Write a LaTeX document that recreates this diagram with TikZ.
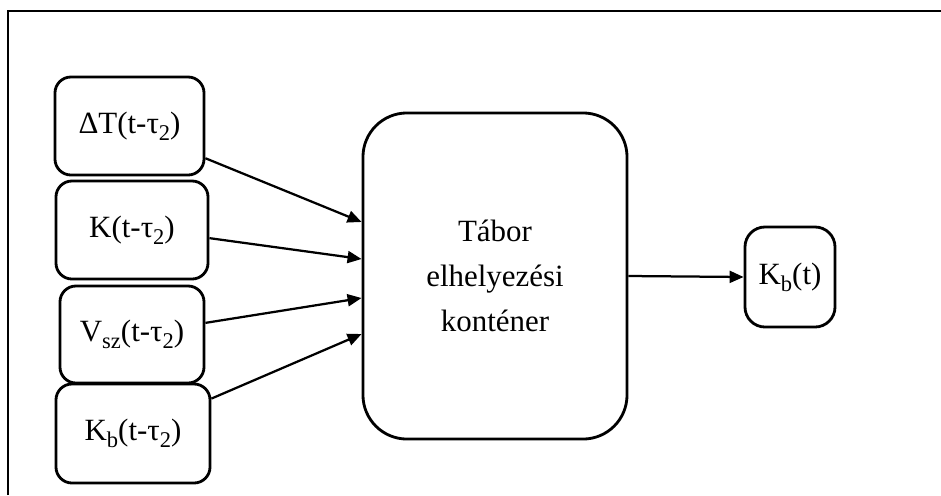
\documentclass[tikz,border=0pt]{standalone}
\usepackage{fontspec}
\setmainfont{Liberation Serif}
\usetikzlibrary{arrows.meta, positioning}

\newcommand{\lowsub}[1]{\raisebox{-5pt}{\fontsize{16}{16}\selectfont #1}}

\tikzset{
    block/.style={draw, line width=2pt, rounded corners=0.4cm, inner sep=0pt, align=center,
        font=\fontsize{22}{32}\selectfont},
    flow/.style={line width=1.6pt, -{Triangle[length=0.35cm, width=0.3cm]}}
}

\begin{document}
\begin{tikzpicture}[x=0.025cm, y=-0.025cm]

            % Canvas and frame (only top and left edges are visible)
            \useasboundingbox (0,0) rectangle (941,495);
            \draw[line width=0.9pt] (8,495) -- (8,11) -- (941,11);

            % Input blocks
            \node[block, minimum width=3.725cm, minimum height=2.45cm] (dT) at (129.5,126) {ΔT(t-τ\lowsub{2})};
            \node[block, minimum width=3.8cm, minimum height=2.45cm] (K) at (132,230) {K(t-τ\lowsub{2})};
            \node[block, minimum width=3.6cm, minimum height=2.425cm] (Vsz) at (132,334.5) {V\lowsub{sz}(t-τ\lowsub{2})};
            \node[block, minimum width=3.85cm, minimum height=2.475cm] (Kbin) at (133,433.5) {K\lowsub{b}(t-τ\lowsub{2})};

            % Container block
            \node[block, rounded corners=1.1cm, minimum width=6.6cm, minimum height=8.15cm] (tabor) at (495,276) {Tábor\\elhelyezési\\konténer};

            % Output block
            \node[block, rounded corners=0.5cm, minimum width=2.25cm, minimum height=2.5cm] (Kbt) at (790,277) {K\lowsub{b}(t)};

            % Connectors
            \foreach \src/\ang/\dy in {dT/-23/1.35, K/-6/0.425, Vsz/9/-0.55, Kbin/24/-1.45} {
                    \draw[flow] (\src.\ang) -- ([yshift=\dy cm]tabor.west);
                }
            \draw[flow] (tabor.east) -- (Kbt.west);
        \end{tikzpicture}
\end{document}
